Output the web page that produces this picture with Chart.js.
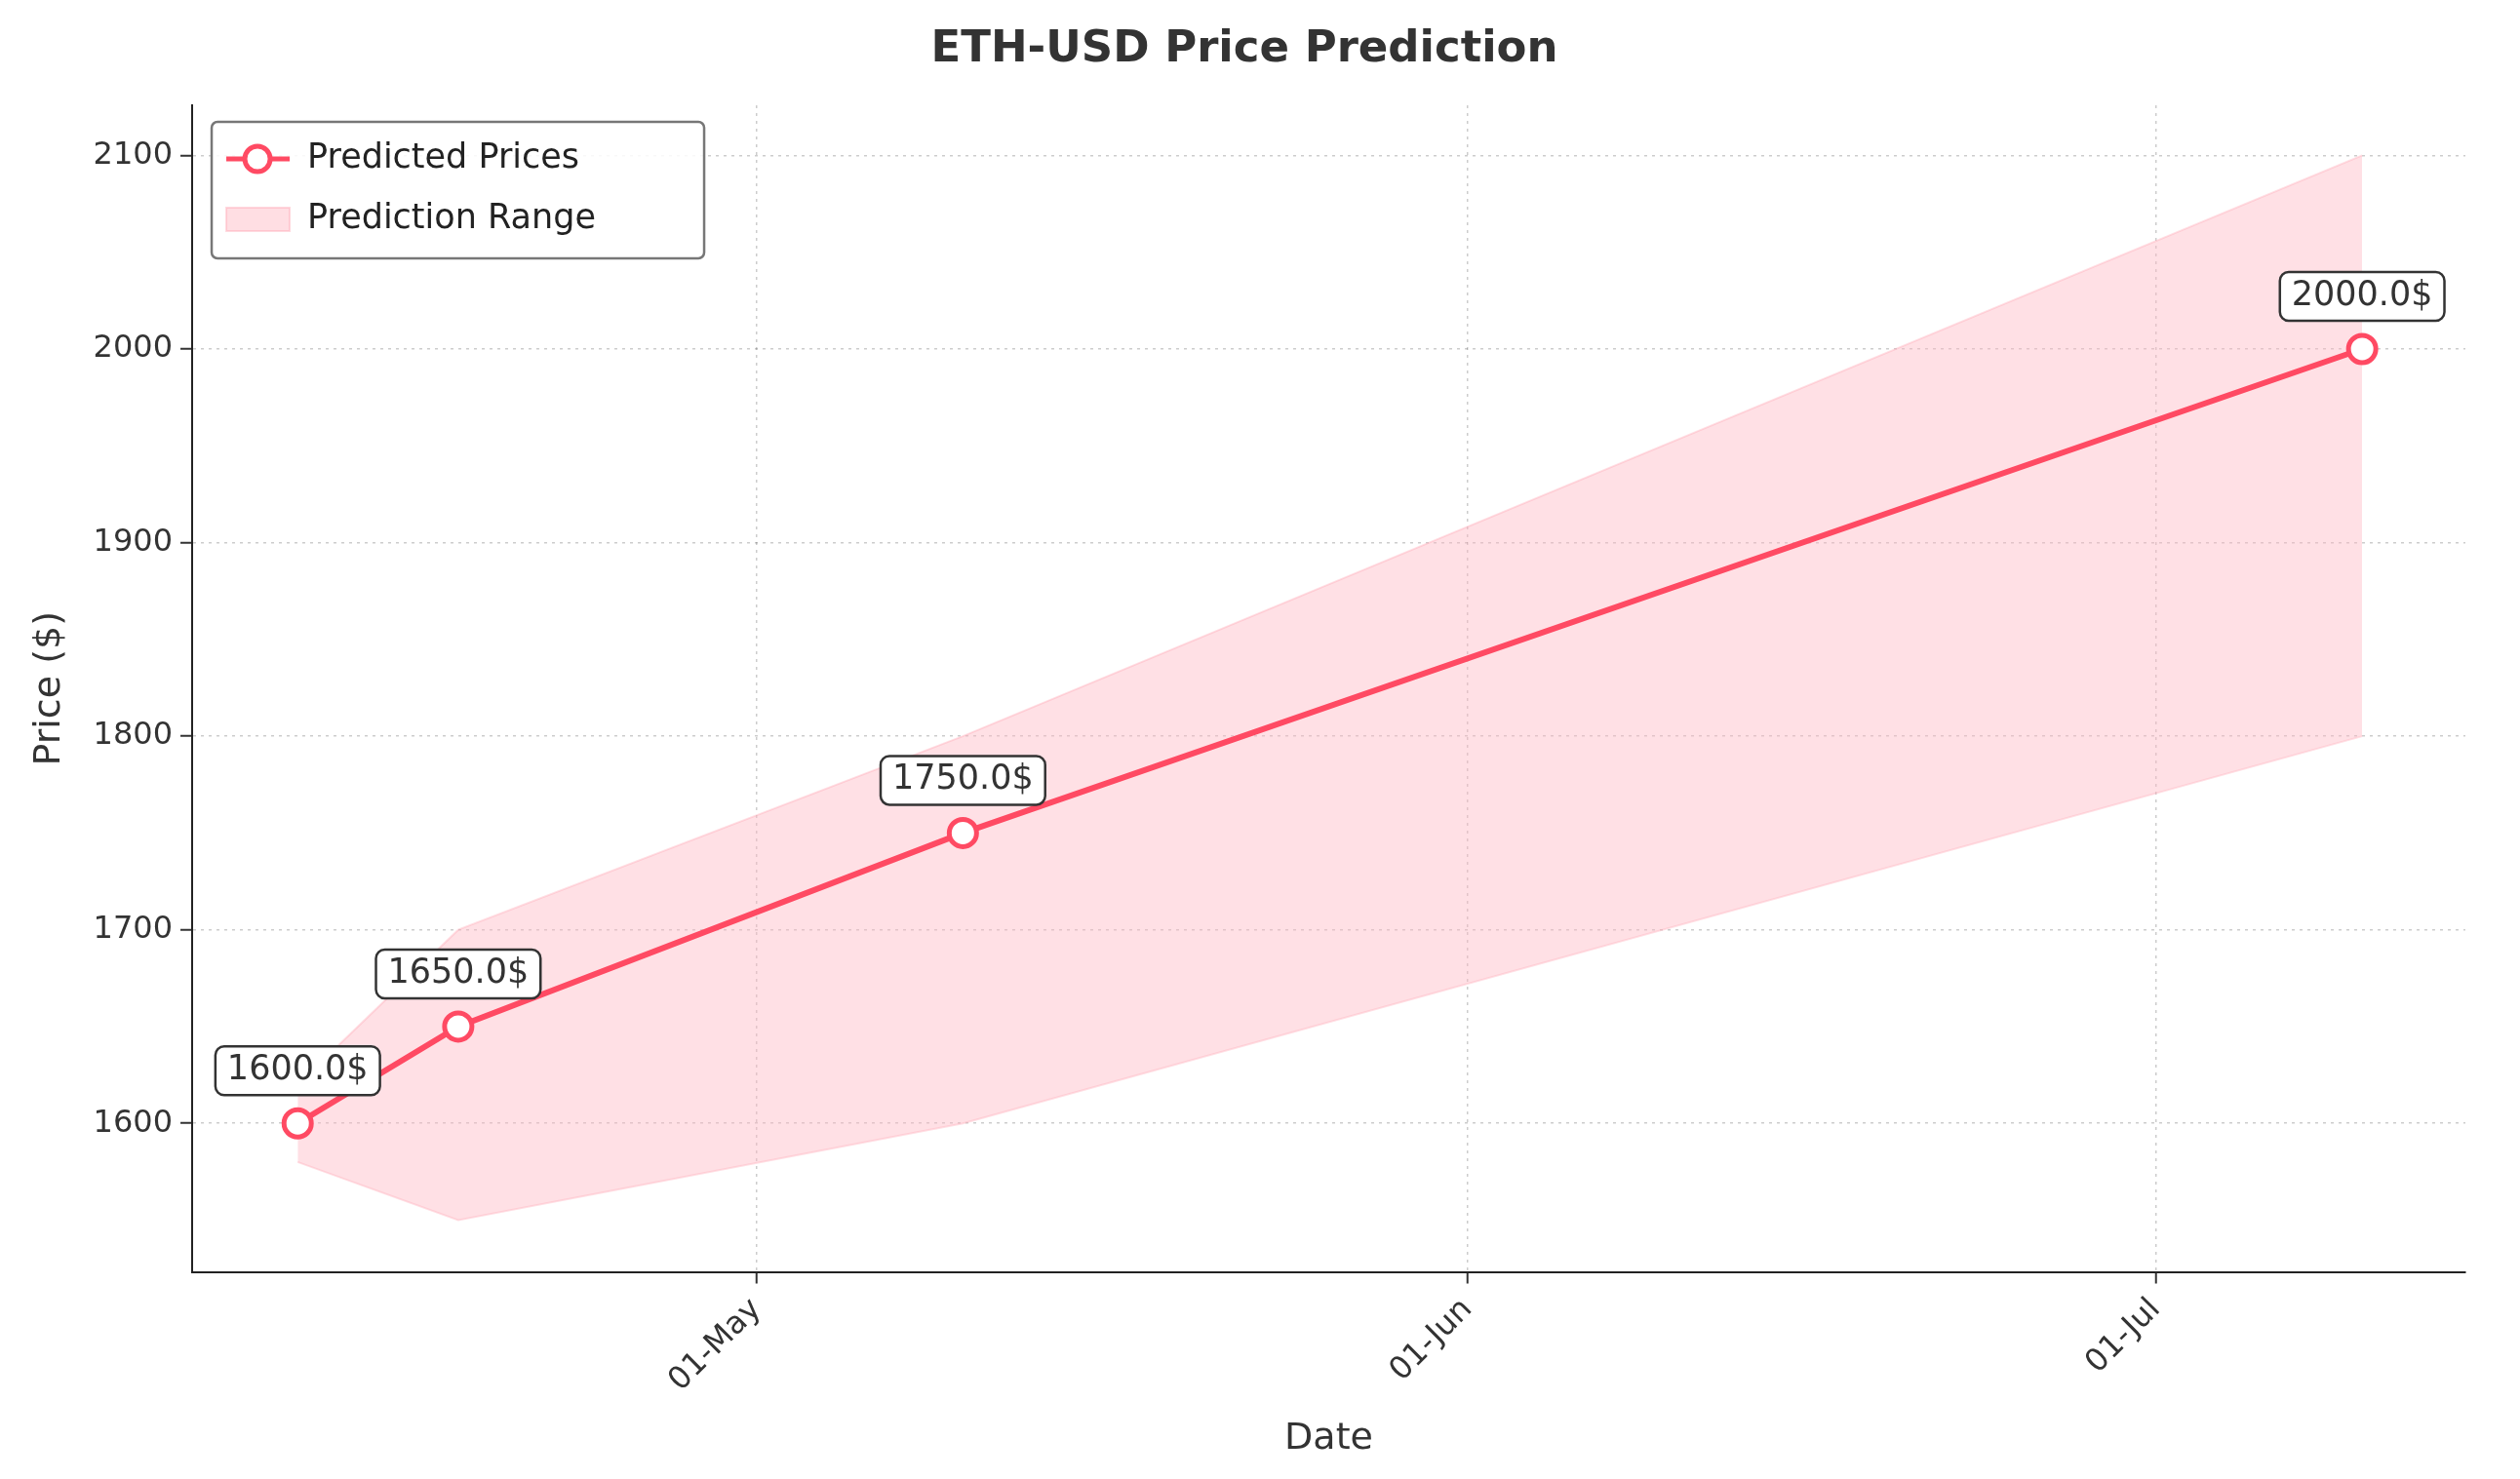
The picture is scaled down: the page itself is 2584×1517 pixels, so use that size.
<!DOCTYPE html>
<html><head><meta charset="utf-8">
<script src="https://cdn.jsdelivr.net/npm/chart.js@4/dist/chart.umd.min.js"></script>
<style>html,body{margin:0;padding:0;background:#fff}#w{width:2584px;height:1517px}</style>
</head><body><div id="w"><canvas id="c"></canvas></div>
<script>
// day-of-year (2023): Apr 11, Apr 18, May 10, Jul 10
const dates = [101, 108, 130, 191];
const predicted = [1600, 1650, 1750, 2000];
const upper = [1620, 1700, 1800, 2100];
const lower = [1580, 1550, 1600, 1800];
const tickDays = [121, 152, 182];
const tickLabels = ['01-May', '01-Jun', '01-Jul'];
const yTicks = [1600, 1700, 1800, 1900, 2000, 2100];

const red = '#ff4a63';
const F = 'DejaVu Sans';
const pts = a => a.map((v, i) => ({x: dates[i], y: v}));

const overlay = {
  id: 'overlay',
  afterDatasetsDraw(ch) {
    const c = ch.ctx, xs = ch.scales.x, ys = ch.scales.y;
    c.save();
    c.font = '35px "' + F + '"';
    c.textAlign = 'center'; c.textBaseline = 'middle';
    predicted.forEach((v, i) => {
      const x = xs.getPixelForValue(dates[i]), y = ys.getPixelForValue(v) - 54;
      const t = v.toFixed(1) + '$';
      const w = c.measureText(t).width + 24, h = 50;
      c.beginPath(); c.roundRect(x - w / 2, y - h / 2, w, h, 9);
      c.fillStyle = '#fff'; c.fill(); c.lineWidth = 2.5; c.strokeStyle = '#333'; c.stroke();
      c.fillStyle = '#333'; c.fillText(t, x, y);
    });
    const ca = ch.chartArea;
    const lx = ca.left + 20, ly = ca.top + 17, lw = 505, lh = 140;
    c.beginPath(); c.roundRect(lx, ly, lw, lh, 6);
    c.fillStyle = 'rgba(255,255,255,0.85)'; c.fill();
    c.strokeStyle = '#777'; c.lineWidth = 2.5; c.stroke();
    c.textAlign = 'left'; c.font = '35px "' + F + '"';
    const y1 = ly + 38, y2 = ly + 100;
    c.strokeStyle = red; c.lineWidth = 5;
    c.beginPath(); c.moveTo(lx + 15, y1); c.lineTo(lx + 80, y1); c.stroke();
    c.beginPath(); c.arc(lx + 47, y1, 13, 0, Math.PI * 2); c.fillStyle = '#fff'; c.fill(); c.stroke();
    c.fillStyle = 'rgba(255,182,193,0.45)'; c.fillRect(lx + 15, y2 - 12, 65, 24);
    c.strokeStyle = 'rgba(255,160,175,0.4)'; c.lineWidth = 2; c.strokeRect(lx + 15, y2 - 12, 65, 24);
    c.fillStyle = '#222';
    c.fillText('Predicted Prices', lx + 98, y1);
    c.fillText('Prediction Range', lx + 98, y2);
    c.restore();
  }
};

const gridOpt = {color: 'rgba(0,0,0,0.2)', lineWidth: 1.5, tickLength: 12, tickColor: '#333', tickWidth: 2};
new Chart(document.getElementById('c'), {
  type: 'line',
  data: {
    datasets: [
      {label: 'Upper', data: pts(upper), borderColor: 'rgba(255,160,175,0.35)', borderWidth: 2,
       backgroundColor: 'rgba(255,182,193,0.42)', fill: '+1', pointRadius: 0, order: 2},
      {label: 'Lower', data: pts(lower), borderColor: 'rgba(255,160,175,0.35)', borderWidth: 2,
       pointRadius: 0, fill: false, order: 2},
      {label: 'Predicted Prices', data: pts(predicted), borderColor: red, borderWidth: 6,
       pointRadius: 14, pointBorderWidth: 5, pointBackgroundColor: '#fff', pointBorderColor: red,
       fill: false, order: 1}
    ]
  },
  options: {
    responsive: true, maintainAspectRatio: false, animation: false,
    layout: {padding: {left: 24, right: 56, top: 6, bottom: 14}},
    plugins: {
      legend: {display: false}, tooltip: {enabled: false},
      title: {display: true, text: 'ETH-USD Price Prediction', color: '#333',
        font: {family: F, size: 45, weight: 'bold'}, padding: {top: 18, bottom: 30}}
    },
    scales: {
      x: {type: 'linear', min: 96.4, max: 195.5,
        afterBuildTicks: s => { s.ticks = tickDays.map(v => ({value: v})); },
        ticks: {callback: v => tickLabels[tickDays.indexOf(v)], maxRotation: 45, minRotation: 45,
          color: '#333', font: {family: F, size: 32}, padding: 8},
        grid: gridOpt,
        border: {display: true, color: '#222', width: 2, dash: [3, 5]},
        title: {display: true, text: 'Date', color: '#333', font: {family: F, size: 38}, padding: {top: 10}}
      },
      y: {min: 1523.3, max: 2125.9,
        afterBuildTicks: s => { s.ticks = yTicks.map(v => ({value: v})); },
        ticks: {callback: v => String(v), color: '#333', font: {family: F, size: 32}, padding: 8},
        grid: gridOpt,
        border: {display: true, color: '#222', width: 2, dash: [3, 5]},
        title: {display: true, text: 'Price ($)', color: '#333', font: {family: F, size: 38}, padding: {bottom: 14}}
      }
    }
  },
  plugins: [overlay]
});
</script></body></html>
